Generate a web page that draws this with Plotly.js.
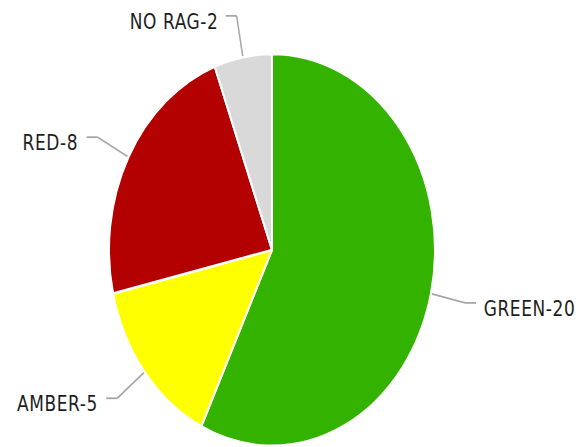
<!DOCTYPE html>
<html>
<head>
<meta charset="utf-8">
<script src="https://cdn.plot.ly/plotly-3.0.1.min.js"></script>
<style>
  html, body { margin: 0; padding: 0; background: #fff; overflow: hidden; }
  #wrap { width: 588px; height: 447px; overflow: hidden; }
  #chart { width: 588px; height: 372px; transform: scaleY(1.2016); transform-origin: 0 0; }
  #chart .annotation-text { letter-spacing: 0.6px; }
</style>
</head>
<body>
<div id="wrap"><div id="chart"></div></div>
<script>
// Data
const labels = ['GREEN', 'AMBER', 'RED', 'NO RAG'];
const values = [20, 5, 8, 2];

// Layout constants (unscaled pixel space)
const W = 588, H = 372;
const cx = 272, cy = 208, r = 163;
const R = 198, hseg = 11, gap = 9, textDy = 5;
const sliceColors = ['#33b300', '#ffff00', '#b30000', '#d9d9d9'];

const px = x => x / W;
const py = y => 1 - y / H;

const total = values.reduce((a, b) => a + b, 0);
const shapes = [];
const annotations = [];
let acc = 0;
labels.forEach((lab, i) => {
  const mid = (acc + values[i] / 2) / total * 2 * Math.PI;
  acc += values[i];
  const s = Math.sin(mid), c = Math.cos(mid);
  const x0 = cx + (r + 1) * s, y0 = cy - (r + 1) * c;
  const x1 = cx + R * s, y1 = cy - R * c;
  const dir = s >= 0 ? 1 : -1;
  const x2 = x1 + dir * hseg;
  const lineStyle = { color: '#a6a6a6', width: 1.5 };
  shapes.push({ type: 'line', xref: 'paper', yref: 'paper', x0: px(x0), y0: py(y0), x1: px(x1), y1: py(y1), line: lineStyle });
  shapes.push({ type: 'line', xref: 'paper', yref: 'paper', x0: px(x1), y0: py(y1), x1: px(x2), y1: py(y1), line: lineStyle });
  annotations.push({
    xref: 'paper', yref: 'paper',
    x: px(x2 + dir * gap), y: py(y1 + textDy),
    xanchor: dir > 0 ? 'left' : 'right', yanchor: 'middle',
    showarrow: false,
    text: lab + '-' + values[i],
    font: { family: 'DejaVu Sans', size: 17, color: '#1e1e1e' },
    borderpad: 0
  });
});

const trace = {
  type: 'pie',
  labels: labels,
  values: values,
  sort: false,
  direction: 'clockwise',
  rotation: 0,
  textinfo: 'none',
  hoverinfo: 'label+value',
  marker: { colors: sliceColors, line: { color: '#ffffff', width: 2 } },
  domain: { x: [px(cx - r), px(cx + r)], y: [py(cy + r), py(cy - r)] },
  showlegend: false
};

const layout = {
  width: W, height: H,
  margin: { l: 0, r: 0, t: 0, b: 0 },
  paper_bgcolor: '#ffffff',
  showlegend: false,
  shapes: shapes,
  annotations: annotations
};

Plotly.newPlot('chart', [trace], layout, { staticPlot: true, displayModeBar: false });
</script>
</body>
</html>
